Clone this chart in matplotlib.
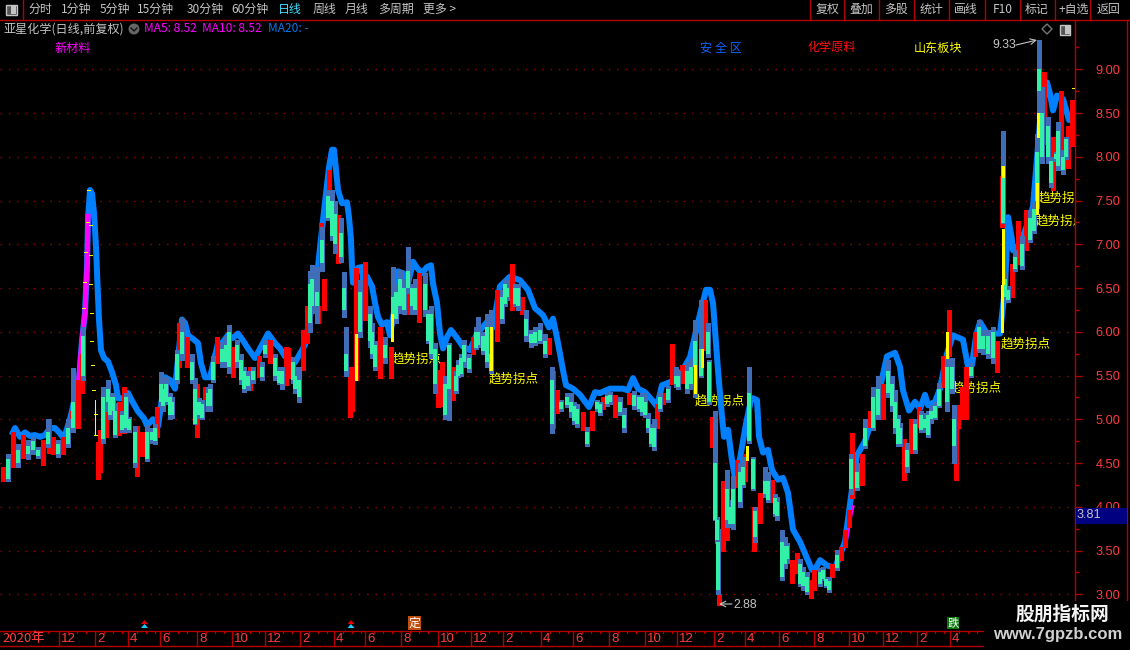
import matplotlib
matplotlib.use('Agg')
import matplotlib.pyplot as plt
from matplotlib.patches import Rectangle, Circle, Polygon

CJK = ['Noto Sans CJK SC', 'DejaVu Sans']
plt.rcParams['font.family'] = CJK

W, H = 1130, 650
PX = 0.72  # one pixel in points at dpi 100

RED = '#ff0000'
GREEN = '#32f0a8'
STEEL = '#3f6db8'
BLUE = '#0080ff'
AXIS_RED = '#b40000'
GRID_RED = '#a00000'
LABEL_RED = '#ff3c3c'
GREY = '#c4c4c4'

# price labels and the last close box
price_ticks = [3.0, 3.5, 4.0, 4.5, 5.0, 5.5, 6.0, 6.5, 7.0, 7.5, 8.0, 8.5, 9.0]
price_minor = [3.25, 3.75, 4.25, 4.75, 5.25, 5.75, 6.25, 6.75, 7.25, 7.75, 8.25, 8.75, 9.25]

# red candles: position in the window, high, low
red_x = [3, 13, 23, 43, 49, 53, 63, 72, 78, 82, 98, 100, 106, 119, 124, 137, 142, 157, 179, 187,
         197, 205, 217, 233, 250, 259, 270, 286, 288, 303, 307, 318, 321, 324, 329, 338, 350, 352, 356, 365,
         380, 391, 407, 419, 438, 442, 453, 473, 497, 512, 522, 549, 553, 557, 583, 592, 603, 615, 629, 657,
         663, 672, 682, 705, 712, 719, 723, 724, 727, 737, 745, 754, 760, 772, 792, 797, 811, 814,
         832, 841, 845, 849, 852, 862, 870, 883, 904, 911, 919, 943, 949, 956, 958, 962, 966, 975, 997,
         1002, 1012, 1018, 1026, 1044, 1053, 1061, 1068, 1072]
red_high = [4.45, 4.85, 4.82, 4.76, 5.00, 4.80, 4.80, 5.10, 5.45, 5.75, 4.74, 4.88, 5.10, 5.20, 5.37, 4.92, 4.86, 5.14, 6.10, 5.94,
            5.40, 5.37, 5.94, 5.83, 5.60, 5.72, 5.91, 5.83, 5.81, 6.02, 6.29, 6.30, 7.24, 6.60, 7.85, 7.33, 5.60, 5.60, 6.73, 6.80,
            6.05, 5.83, 6.45, 6.67, 5.56, 5.65, 5.60, 5.94, 6.48, 6.78, 6.40, 5.93, 5.55, 5.33, 5.08, 5.10, 5.25, 5.28, 5.30, 5.18,
            5.30, 5.86, 5.62, 6.36, 5.03, 3.00, 4.30, 4.30, 3.96, 4.53, 4.60, 4.00, 4.16, 4.31, 3.39, 3.47, 3.16, 3.28,
            3.35, 3.54, 3.74, 3.96, 4.84, 4.60, 5.10, 5.40, 4.77, 5.00, 5.14, 5.72, 6.25, 4.90, 5.16, 5.37, 5.60, 6.00, 5.90,
            7.78, 6.78, 7.27, 7.39, 8.97, 8.23, 8.75, 8.35, 8.65]
red_low = [4.29, 4.45, 4.56, 4.48, 4.62, 4.60, 4.60, 4.88, 4.90, 5.30, 4.32, 4.40, 4.80, 4.82, 4.84, 4.35, 4.58, 4.80, 5.60, 5.60,
           4.80, 5.10, 5.64, 5.48, 5.33, 5.48, 5.64, 5.39, 5.47, 5.56, 5.87, 6.10, 6.70, 6.25, 7.28, 6.79, 5.03, 5.10, 5.45, 6.14,
           5.47, 5.47, 6.20, 6.11, 5.14, 5.15, 5.22, 5.75, 5.90, 6.25, 6.20, 5.75, 4.90, 5.07, 4.88, 4.88, 5.12, 5.03, 5.18, 4.90,
           5.18, 5.40, 5.41, 5.79, 4.68, 2.88, 3.50, 3.80, 3.62, 4.23, 4.30, 3.49, 3.81, 4.05, 3.13, 3.24, 2.96, 3.05,
           3.20, 3.39, 3.54, 3.77, 4.10, 4.25, 4.91, 5.00, 4.31, 4.61, 4.91, 5.37, 5.72, 4.31, 4.90, 5.00, 5.00, 5.72, 5.54,
           7.20, 6.40, 6.78, 6.94, 8.15, 7.62, 7.85, 7.87, 8.12]

# falling candles: position, high, low, body top, body bottom
green_x = [8, 18, 28, 33, 38, 48, 58, 68, 73, 83, 103, 108, 113, 115, 122, 126, 129, 135, 147, 152,
           161, 166, 172, 177, 182, 192, 195, 199, 208, 213, 222, 229, 237, 244, 248, 253, 265, 275, 279, 293,
           299, 312, 317, 322, 328, 332, 341, 344, 346, 360, 370, 375, 385, 393, 400, 408, 412, 425, 428, 435,
           449, 458, 464, 469, 478, 483, 491, 502, 507, 518, 526, 531, 540, 545, 552, 561, 567, 571, 577, 587,
           597, 610, 620, 624, 634, 639, 645, 648, 654, 668, 676, 687, 695, 701, 708, 709, 715, 717, 718, 727,
           730, 743, 749, 753, 755, 765, 777, 782, 787, 803, 823, 829, 837, 851, 857, 865, 873, 878, 888, 895,
           900, 907, 915, 925, 931, 935, 939, 947, 952, 954, 971, 979, 983, 988, 993, 1003, 1005, 1008, 1015, 1022,
           1030, 1034, 1037, 1039, 1042, 1048, 1051, 1056, 1058, 1063, 1066]
green_high = [4.60, 4.72, 4.76, 4.80, 4.68, 5.00, 4.76, 5.00, 5.59, 6.05, 5.37, 5.45, 5.30, 5.19, 5.10, 5.30, 5.03, 4.92, 4.93, 4.90,
              5.54, 5.48, 5.26, 5.79, 6.16, 5.75, 5.47, 5.24, 5.37, 5.72, 5.88, 6.08, 5.91, 5.60, 5.55, 5.60, 5.91, 5.75, 5.60, 5.71,
              5.60, 6.76, 6.74, 7.20, 7.62, 7.62, 7.30, 6.68, 6.05, 6.59, 6.29, 5.90, 5.94, 6.74, 6.71, 6.97, 6.55, 6.67, 6.25, 5.87,
              5.87, 5.68, 5.91, 5.75, 6.17, 6.00, 6.25, 6.48, 6.59, 6.55, 6.25, 6.02, 6.10, 5.98, 5.60, 5.22, 5.30, 5.30, 5.18, 4.91,
              5.22, 5.31, 5.25, 5.13, 5.32, 5.28, 5.30, 5.07, 5.00, 5.38, 5.60, 5.66, 6.13, 6.36, 6.10, 5.68, 5.10, 3.88, 3.75, 4.42,
              4.08, 4.57, 5.60, 4.57, 4.00, 4.46, 4.11, 3.74, 3.59, 3.31, 3.31, 3.20, 3.51, 4.60, 4.50, 5.00, 5.37, 5.50, 5.68, 5.33,
              4.96, 4.73, 5.00, 5.07, 5.16, 5.20, 5.41, 5.72, 5.70, 5.16, 5.64, 6.14, 6.02, 6.02, 6.06, 8.30, 6.67, 6.52, 6.93, 7.09,
              7.39, 7.47, 8.26, 9.33, 8.80, 8.46, 8.00, 8.05, 8.40, 8.08, 8.23]
green_low = [4.29, 4.45, 4.55, 4.60, 4.56, 4.68, 4.57, 4.68, 4.85, 5.45, 4.73, 5.10, 5.00, 4.80, 4.85, 4.85, 4.85, 4.46, 4.52, 4.73,
             5.14, 5.18, 5.02, 5.41, 5.68, 5.41, 4.95, 5.02, 5.10, 5.43, 5.60, 5.53, 5.60, 5.31, 5.33, 5.41, 5.71, 5.45, 5.40, 5.41,
             5.20, 6.21, 6.10, 6.70, 7.28, 7.05, 6.80, 6.17, 5.50, 5.94, 5.83, 5.56, 5.64, 6.11, 6.21, 6.44, 6.20, 6.18, 5.87, 5.30,
             4.99, 5.48, 5.60, 5.54, 5.83, 5.75, 5.53, 6.10, 6.36, 6.25, 5.90, 5.83, 5.87, 5.71, 4.84, 5.10, 5.14, 5.03, 4.91, 4.69,
             5.10, 5.18, 5.05, 4.85, 5.12, 5.09, 5.03, 4.85, 4.65, 5.20, 5.37, 5.30, 5.25, 5.48, 5.71, 5.18, 3.85, 3.59, 3.00, 3.77,
             3.77, 4.23, 4.73, 4.19, 3.60, 4.11, 3.85, 3.16, 3.36, 3.05, 3.16, 3.03, 3.28, 4.15, 4.19, 4.67, 4.88, 5.00, 5.25, 4.84,
             4.69, 4.40, 4.62, 4.86, 4.96, 5.00, 5.14, 5.10, 5.30, 4.50, 5.48, 5.77, 5.75, 5.70, 5.64, 7.24, 6.36, 6.34, 6.70, 6.72,
             7.03, 7.13, 7.42, 8.50, 7.93, 7.93, 7.66, 7.95, 7.85, 7.80, 7.98]
green_top = [4.55, 4.65, 4.70, 4.75, 4.65, 4.85, 4.72, 4.90, 5.20, 5.95, 5.25, 5.35, 5.25, 5.10, 5.05, 5.25, 5.00, 4.85, 4.85, 4.85,
             5.40, 5.40, 5.20, 5.75, 6.00, 5.65, 5.35, 5.20, 5.30, 5.65, 5.80, 6.00, 5.85, 5.55, 5.50, 5.55, 5.85, 5.70, 5.55, 5.65,
             5.45, 6.60, 6.45, 7.05, 7.55, 7.50, 7.13, 6.50, 5.75, 6.45, 6.20, 5.85, 5.85, 6.40, 6.60, 6.70, 6.50, 6.55, 6.20, 5.80,
             5.85, 5.62, 5.85, 5.70, 6.00, 5.95, 5.75, 6.40, 6.50, 6.50, 6.15, 5.98, 6.02, 5.90, 5.45, 5.20, 5.25, 5.20, 5.12, 4.85,
             5.20, 5.28, 5.20, 5.05, 5.28, 5.25, 5.20, 5.00, 4.90, 5.35, 5.50, 5.55, 5.90, 5.80, 6.00, 5.66, 4.50, 3.85, 3.60, 4.20,
             4.00, 4.45, 5.30, 4.55, 3.95, 4.30, 4.05, 3.60, 3.55, 3.25, 3.28, 3.15, 3.45, 4.55, 4.40, 4.90, 5.25, 5.35, 5.55, 5.20,
             4.90, 4.65, 4.95, 5.00, 5.10, 5.15, 5.35, 5.60, 5.60, 5.00, 5.60, 6.05, 5.95, 5.95, 6.00, 7.90, 6.60, 6.48, 6.85, 7.00,
             7.30, 7.40, 8.05, 9.00, 8.50, 8.35, 7.95, 8.03, 8.30, 8.00, 8.20]
green_bot = [4.32, 4.50, 4.60, 4.65, 4.58, 4.72, 4.60, 4.72, 4.90, 5.50, 4.78, 5.20, 5.10, 4.82, 4.88, 4.90, 4.88, 4.50, 4.55, 4.76,
             5.20, 5.20, 5.05, 5.45, 5.75, 5.45, 4.95, 5.05, 5.15, 5.45, 5.65, 5.60, 5.65, 5.35, 5.38, 5.45, 5.75, 5.50, 5.42, 5.45,
             5.25, 6.30, 6.30, 6.79, 7.30, 7.10, 6.85, 6.25, 5.55, 6.00, 5.90, 5.60, 5.70, 6.15, 6.30, 6.50, 6.30, 6.25, 5.90, 5.40,
             5.35, 5.50, 5.65, 5.58, 5.85, 5.78, 5.55, 6.15, 6.40, 6.30, 5.95, 5.87, 5.90, 5.75, 4.95, 5.12, 5.16, 5.08, 4.95, 4.72,
             5.12, 5.20, 5.08, 4.90, 5.15, 5.12, 5.05, 4.90, 4.68, 5.22, 5.40, 5.35, 5.60, 5.50, 5.75, 5.20, 3.85, 3.62, 3.05, 3.85,
             3.80, 4.25, 4.75, 4.20, 3.65, 4.15, 3.90, 3.20, 3.40, 3.10, 3.18, 3.05, 3.30, 4.20, 4.22, 4.70, 4.90, 5.05, 5.30, 4.90,
             4.72, 4.45, 4.65, 4.90, 5.00, 5.02, 5.15, 5.20, 5.35, 4.70, 5.50, 5.80, 5.80, 5.75, 5.70, 7.24, 6.40, 6.36, 6.72, 6.75,
             7.05, 7.15, 7.50, 8.75, 8.00, 8.00, 7.70, 7.97, 7.90, 7.85, 8.00]

# smaller candles in between the ones above
fill_x = [110, 155, 163, 170, 202, 210, 226, 241, 262, 282, 295, 310, 335, 372, 396, 404, 415, 431, 445, 456,
          461, 476, 487, 505, 515, 535, 574, 600, 607, 642, 651, 660, 678, 691, 733, 740, 768, 775, 785, 800,
          807, 820, 826, 892, 898, 921, 928]
fill_high = [5.30, 4.95, 5.45, 5.30, 5.22, 5.40, 5.95, 5.75, 5.65, 5.60, 5.60, 6.70, 7.50, 6.10, 6.55, 6.60, 6.60, 6.30, 5.50, 5.55,
             5.75, 6.05, 6.20, 6.60, 6.55, 6.05, 5.20, 5.20, 5.30, 5.30, 4.95, 5.30, 5.55, 5.70, 4.35, 4.50, 4.40, 4.15, 3.65, 3.40,
             3.25, 3.30, 3.20, 5.50, 5.05, 5.10, 5.10]
fill_low = [5.00, 4.72, 5.10, 5.00, 5.00, 5.10, 5.60, 5.40, 5.45, 5.35, 5.30, 6.00, 6.90, 5.70, 6.10, 6.20, 6.20, 5.70, 5.00, 5.30,
            5.50, 5.80, 5.60, 6.30, 6.30, 5.85, 4.95, 5.05, 5.15, 5.05, 4.70, 5.10, 5.35, 5.35, 3.75, 4.00, 4.05, 3.90, 3.30, 3.10,
            3.00, 3.10, 3.08, 5.10, 4.70, 4.85, 4.80]
fill_top = [5.25, 4.90, 5.35, 5.25, 5.18, 5.35, 5.85, 5.68, 5.60, 5.55, 5.50, 6.55, 7.35, 6.00, 6.45, 6.50, 6.50, 6.20, 5.40, 5.50,
            5.70, 6.00, 6.05, 6.55, 6.50, 6.00, 5.15, 5.18, 5.27, 5.25, 4.90, 5.25, 5.50, 5.60, 4.20, 4.40, 4.30, 4.10, 3.55, 3.35,
            3.20, 3.25, 3.18, 5.40, 5.00, 5.05, 5.05]
fill_bot = [5.05, 4.75, 5.15, 5.05, 5.02, 5.15, 5.65, 5.45, 5.48, 5.40, 5.35, 6.10, 7.00, 5.75, 6.15, 6.25, 6.25, 5.75, 5.05, 5.32,
            5.52, 5.82, 5.65, 6.32, 6.32, 5.87, 4.98, 5.07, 5.17, 5.08, 4.72, 5.12, 5.37, 5.40, 3.80, 4.05, 4.08, 3.92, 3.35, 3.12,
            3.03, 3.12, 3.10, 5.15, 4.72, 4.88, 4.82]

# thick trend line
ma_x = [13, 15, 20, 25, 30, 35, 40, 45, 50, 55, 60, 64, 70, 75, 78, 82, 85, 87, 88, 90, 92, 94, 96, 97, 98, 99, 101, 104, 108,
        112, 116, 118, 124, 128, 133, 138, 144, 147, 153, 158, 165, 170, 175, 182, 185, 188, 194, 198, 201, 205, 210, 218,
        222, 228, 233, 238, 243, 248, 255, 262, 268, 275, 280, 285, 295, 305, 312, 318, 323, 329, 332, 334, 336, 338, 342,
        347, 349, 351, 352, 353, 358, 362, 363, 367, 372, 375, 378, 382, 387, 390, 395, 398, 403, 408, 413, 417, 422, 427,
        431, 433, 437, 440, 443, 447, 451, 457, 463, 470, 477, 487, 493, 500, 510, 520, 528, 535, 543, 549, 553, 557, 560,
        563, 566, 573, 580, 589, 595, 600, 610, 623, 628, 633, 638, 645, 652, 657, 662, 667, 675, 682, 690, 700, 706, 710,
        713, 715, 718, 722, 724, 728, 732, 735, 740, 746, 751, 753, 757, 759, 763, 768, 772, 778, 783, 788, 793, 800, 812,
        815, 820, 827, 835, 845, 852, 857, 865, 875, 887, 895, 900, 903, 909, 915, 920, 925, 928, 935, 940, 947, 953, 963,
        968, 972, 976, 980, 987, 1000, 1005, 1008, 1012, 1013, 1020, 1028, 1033, 1040, 1047, 1050, 1053, 1057, 1063, 1069, 1072]
ma_price = [4.85, 4.90, 4.80, 4.85, 4.81, 4.82, 4.80, 4.82, 4.90, 4.90, 4.84, 4.78, 5.00, 5.25, 5.30, 5.90, 6.22, 6.74, 7.28, 7.62, 7.58, 7.36, 6.97, 6.67, 6.40, 6.14, 5.79, 5.70, 5.66,
            5.54, 5.39, 5.24, 5.24, 5.30, 5.19, 5.09, 5.01, 4.93, 5.00, 4.92, 5.48, 5.45, 5.35, 6.14, 6.10, 5.96, 5.91, 5.87, 5.64, 5.48, 5.48, 5.87,
            5.87, 5.96, 5.93, 5.98, 5.90, 5.81, 5.70, 5.85, 5.98, 5.87, 5.81, 5.72, 5.65, 5.85, 6.30, 6.74, 7.28, 7.88, 8.08, 8.08, 7.85, 7.62, 7.47,
            7.48, 7.31, 7.05, 6.74, 6.56, 6.73, 6.74, 6.59, 6.63, 6.52, 6.33, 6.17, 6.08, 6.11, 5.96, 6.29, 6.69, 6.67, 6.55, 6.80, 6.73, 6.67, 6.74,
            6.76, 6.55, 6.33, 5.98, 5.81, 5.94, 6.02, 5.93, 5.83, 5.79, 5.98, 6.11, 6.05, 6.52, 6.63, 6.59, 6.48, 6.27, 6.19, 6.05, 6.15, 5.93, 5.75,
            5.56, 5.39, 5.35, 5.28, 5.14, 5.31, 5.30, 5.35, 5.35, 5.33, 5.47, 5.35, 5.31, 5.22, 5.15, 5.39, 5.41, 5.45, 5.55, 5.71, 6.20, 6.48, 6.48,
            6.33, 6.02, 5.56, 5.03, 4.80, 4.88, 4.53, 4.33, 4.55, 4.95, 5.22, 5.24, 5.22, 4.80, 4.62, 4.65, 4.42, 4.31, 4.33, 4.16, 3.74, 3.60, 3.28,
            3.28, 3.39, 3.33, 3.30, 3.60, 4.20, 4.59, 4.75, 5.10, 5.72, 5.76, 5.60, 5.33, 5.10, 5.20, 5.12, 5.28, 5.16, 5.20, 5.35, 5.75, 5.96, 5.91,
            5.60, 5.62, 5.95, 6.11, 5.98, 5.98, 6.50, 7.31, 7.05, 6.93, 7.00, 7.25, 7.43, 8.40, 8.85, 8.72, 8.53, 8.70, 8.66, 8.42, 8.45]

# magenta stretches of the rising line
pink_x = [78, 82, 85, 87, 88]
pink_price = [5.35, 5.90, 6.22, 6.74, 7.32]
pink2_x = [847, 849, 851, 853]
pink2_price = [3.65, 3.80, 3.90, 4.00]

# yellow turning bars and dashes
yellow_x = [356, 392, 491, 695, 702, 747, 947, 1002, 1003, 1003, 1037, 1038]
yellow_top = [5.98, 6.20, 6.05, 5.62, 5.80, 4.70, 6.00, 6.53, 7.18, 7.90, 7.70, 8.50]
yellow_bot = [5.45, 5.90, 5.56, 5.30, 5.60, 4.53, 5.70, 6.00, 6.55, 7.77, 7.35, 8.23]
dash_x = [88, 87, 90, 85, 90, 84, 90, 83, 91, 91, 92, 93, 95, 95, 1073]
dash_price = [7.62, 7.25, 7.22, 6.91, 6.88, 6.57, 6.55, 6.27, 6.21, 5.90, 5.62, 5.33, 5.06, 4.82, 8.79]

# date axis
month_x = [59, 95, 128, 160, 197, 232, 265, 300, 334, 365, 401, 438, 471, 503, 541, 573, 609, 645, 677, 714, 745, 779, 814, 849, 883, 917, 950]
month_labels = ['12', '2', '4', '6', '8', '10', '12', '2', '4', '6', '8', '10', '12', '2', '4', '6', '8', '10', '12', '2', '4', '6', '8', '10', '12', '2', '4']

left_buttons = ['分时', '1分钟', '5分钟', '15分钟', '30分钟', '60分钟', '日线', '周线', '月线', '多周期', '更多 >']
left_button_x = [40, 76, 115, 155, 205, 250, 290, 324, 357, 396, 440]
right_buttons = ['复权', '叠加', '多股', '统计', '画线', 'F10', '标记', '+自选', '返回']
right_button_x = [828, 861, 896, 931, 966, 1003, 1037, 1074, 1108]
right_button_sep = [810, 844, 879, 914, 949, 985, 1020, 1055, 1090]

turn_label_x = [392, 489, 695, 952, 1001, 1038, 1036]
turn_label_price = [5.69, 5.46, 5.21, 5.36, 5.86, 7.53, 7.27]

fig = plt.figure(figsize=(W / 100, H / 100), dpi=100, facecolor='black')

ax = fig.add_axes([0, 20 / H, 1075 / W, 610 / H], facecolor='black')
ax.set_xlim(0, 1075)
ax.set_ylim(2.592, 9.563)
ax.set_xticks([])
ax.yaxis.tick_right()
ax.set_yticks(price_ticks)
ax.set_yticklabels(['%.2f' % p for p in price_ticks], color=LABEL_RED, fontsize=9.2,
                   family=['Liberation Sans', 'DejaVu Sans'])
ax.set_yticks(price_minor, minor=True)
ax.tick_params(axis='y', which='major', color=AXIS_RED, length=5, width=1, pad=10)
ax.tick_params(axis='y', which='minor', color=AXIS_RED, length=3, width=1)
ax.grid(axis='y', which='major', color=GRID_RED, linestyle=(0, (1, 5)), linewidth=1)
ax.set_axisbelow(True)
for side in ['top', 'left', 'bottom']:
    ax.spines[side].set_visible(False)
ax.spines['right'].set_color(AXIS_RED)
ax.spines['right'].set_linewidth(1)

# labels sit under the candles, the bars cut through them
for lx, lp in zip(turn_label_x, turn_label_price):
    ax.text(lx, lp, '趋势拐点', color='#ffff00', fontsize=9, va='center', ha='left', zorder=1.5, clip_on=True)

ax.plot(ma_x, ma_price, color=BLUE, lw=6 * PX, solid_joinstyle='round', zorder=2)
ax.plot(pink_x, pink_price, color='#ff00ff', lw=5 * PX, zorder=2.1)
ax.plot(pink2_x, pink2_price, color='#ff00ff', lw=3 * PX, zorder=2.1)

ax.vlines(red_x, red_low, red_high, color=RED, lw=5 * PX, capstyle='butt', antialiased=False, zorder=3)
ax.vlines(green_x + fill_x, green_low + fill_low, green_high + fill_high, color=STEEL, lw=5 * PX, capstyle='butt',
          antialiased=False, zorder=3.1)
ax.vlines(green_x + fill_x, green_bot + fill_bot, green_top + fill_top, color=GREEN, lw=4 * PX, capstyle='butt',
          antialiased=False, zorder=3.2)
ax.vlines(yellow_x, yellow_bot, yellow_top, color='#ffff00', lw=3 * PX, capstyle='butt', antialiased=False, zorder=3.3)
ax.vlines([95], [4.82], [5.22], color='#ffff00', lw=1 * PX, antialiased=False, zorder=3.3)
ax.hlines(dash_price, [x - 1.5 for x in dash_x], [x + 1.5 for x in dash_x], color='#ffff00', lw=1 * PX,
          antialiased=False, zorder=3.4)

# everything around the plot, in pixels of the window
ov = fig.add_axes([0, 0, 1, 1], facecolor='none')
ov.set_xlim(0, W)
ov.set_ylim(H, 0)
ov.axis('off')

# date band
ov.plot([0, 984], [630.5, 630.5], color=AXIS_RED, lw=1)
ov.plot([0, 984], [646, 646], color=AXIS_RED, lw=1)
for mx, ml in zip(month_x, month_labels):
    ov.plot([mx, mx], [630.5, 646], color=AXIS_RED, lw=1)
    ov.text(mx + 2, 638.5, ml, color=LABEL_RED, fontsize=9.5, va='center', ha='left',
            family=['Liberation Sans', 'DejaVu Sans'])
    for k in (9, 18, 27):
        ov.plot([mx + k, mx + k], [630.5, 633], color=AXIS_RED, lw=0.8)
for k in (9, 18, 27, 36, 45):
    ov.plot([k + 3, k + 3], [630.5, 633], color=AXIS_RED, lw=0.8)
ov.text(2, 638.5, '2020年', color=LABEL_RED, fontsize=9.5, va='center', ha='left')

# toolbar
ov.plot([0, W], [19.5, 19.5], color=AXIS_RED, lw=1)
ov.plot([22.5, 22.5], [0, 19.5], color=AXIS_RED, lw=1)
ov.plot([1127, 1127], [20, 600], color=AXIS_RED, lw=1)
ov.add_patch(Rectangle((5.5, 4.5), 11, 10, fc='#555555', ec=GREY, lw=1))
ov.add_patch(Rectangle((11, 5), 5, 9, fc=GREY, ec='none'))
for bx, bl in zip(left_button_x, left_buttons):
    col = '#40e0ff' if bl == '日线' else GREY
    ov.text(bx, 9.5, bl, color=col, fontsize=8.6, va='center', ha='center')
for bx, bl in zip(right_button_x, right_buttons):
    ov.text(bx, 9.5, bl, color=GREY, fontsize=8.6, va='center', ha='center')
for sx in right_button_sep:
    ov.plot([sx, sx], [0, 19.5], color=AXIS_RED, lw=1)

# title row
ov.text(3, 29, '亚星化学(日线,前复权)', color=GREY, fontsize=8.7, va='center', ha='left')
ov.add_patch(Circle((134, 29), 5.5, fc='#666666', ec='none'))
ov.plot([131, 134, 137], [28, 31, 28], color='#111111', lw=1)
ov.text(144, 29, 'MA5: 8.52', color='#ff00ff', fontsize=8.6, va='center', ha='left')
ov.text(202, 29, 'MA10: 8.52', color='#ff00ff', fontsize=8.6, va='center', ha='left')
ov.text(268, 29, 'MA20: -', color='#0a78e6', fontsize=8.6, va='center', ha='left')

ov.text(73, 48, '新材料', color='#ff00ff', fontsize=8.7, va='center', ha='center')
ov.text(721, 48, '安 全 区', color='#0a64ff', fontsize=8.7, va='center', ha='center')
ov.text(832, 48, '化学原料', color='#ff1010', fontsize=8.7, va='center', ha='center')
ov.text(938, 48, '山东板块', color='#ffff00', fontsize=8.7, va='center', ha='center')

# right top icons
ov.add_patch(Polygon([(1047, 24), (1052, 29), (1047, 34), (1042, 29)], closed=True, fc='none', ec='#777777', lw=1))
ov.add_patch(Rectangle((1060, 24.5), 10, 10, fc='#555555', ec=GREY, lw=1))
ov.add_patch(Rectangle((1065, 25), 5, 9, fc=GREY, ec='none'))

# high and low notes
ov.text(992, 45, '9.33', color=GREY, fontsize=8.8, va='center', ha='left', family=['Liberation Sans', 'DejaVu Sans'])
ov.annotate('', xy=(1037, 40), xytext=(1016, 45), arrowprops=dict(arrowstyle='->', color=GREY, lw=0.8, shrinkA=0, shrinkB=0))
ov.text(733, 605, '2.88', color=GREY, fontsize=8.8, va='center', ha='left', family=['Liberation Sans', 'DejaVu Sans'])
ov.annotate('', xy=(719, 604), xytext=(732, 604), arrowprops=dict(arrowstyle='->', color=GREY, lw=0.8, shrinkA=0, shrinkB=0))

# buy marks above the date band
for mark_x in (144.5, 351):
    ov.add_patch(Polygon([(mark_x - 3.5, 624), (mark_x, 620), (mark_x + 3.5, 624)], closed=True, fc='#e00000', ec='none'))
    ov.add_patch(Polygon([(mark_x - 3.5, 628), (mark_x, 624), (mark_x + 3.5, 628)], closed=True, fc='#20c8ff', ec='none'))
ov.add_patch(Rectangle((408, 616), 13, 14, fc='#c0500f', ec='none'))
ov.text(414.5, 623, '定', color='white', fontsize=8.5, va='center', ha='center')
ov.add_patch(Rectangle((947, 617), 12, 12, fc='#0a780a', ec='none'))
ov.text(953, 623, '跌', color='white', fontsize=8.2, va='center', ha='center')

# last price box and watermark
ov.add_patch(Rectangle((1076, 508), 51, 15.5, fc='#000080', ec='none', zorder=5))
ov.text(1077, 515.5, '3.81', color=GREY, fontsize=9.2, va='center', ha='left', zorder=6,
        family=['Liberation Sans', 'DejaVu Sans'])
ov.add_patch(Rectangle((984, 601), 146, 49, fc='black', ec='none', zorder=5))
ov.text(1062, 614.5, '股朋指标网', color='#f4f4f4', fontsize=13.5, fontweight='bold', va='center', ha='center', zorder=6)
ov.text(1058, 634, 'www.7gpzb.com', color='#d0d0d0', fontsize=12, fontweight='bold', va='center', ha='center', zorder=6,
        family=['Liberation Sans', 'DejaVu Sans'])

fig.savefig('out.png', dpi=100, facecolor='black')
